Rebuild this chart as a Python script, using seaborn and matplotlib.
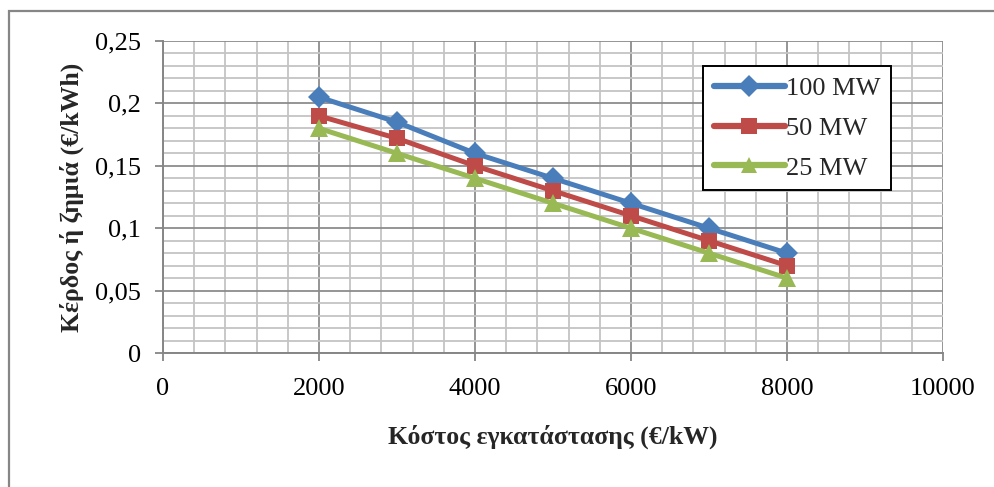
import matplotlib
matplotlib.use("Agg")
import matplotlib.pyplot as plt
from matplotlib.ticker import MultipleLocator, FuncFormatter
from matplotlib.patches import Rectangle
import seaborn as sns
import pandas as pd

# ---- data ----
cost = [2000, 3000, 4000, 5000, 6000, 7000, 8000]
series_names = ["100 MW", "50 MW", "25 MW"]
profit_100 = [0.205, 0.185, 0.16, 0.14, 0.12, 0.10, 0.08]
profit_50 = [0.19, 0.172, 0.15, 0.13, 0.11, 0.09, 0.07]
profit_25 = [0.18, 0.16, 0.14, 0.12, 0.10, 0.08, 0.06]
x_label = "Κόστος εγκατάστασης (€/kW)"
y_label = "Κέρδος ή ζημιά (€/kWh)"

df = pd.DataFrame({
    "cost": cost * 3,
    "profit": profit_100 + profit_50 + profit_25,
    "series": [series_names[0]] * len(cost) + [series_names[1]] * len(cost) + [series_names[2]] * len(cost),
})

sns.set_theme(style="white")
plt.rcParams["font.family"] = ["Liberation Serif", "DejaVu Serif"]

fig = plt.figure(figsize=(9.95, 4.87), dpi=100)
ax = fig.add_axes([163 / 995, 1 - 353 / 487, (943 - 163) / 995, (353 - 41) / 487])

palette = {"100 MW": "#4A7EBB", "50 MW": "#BE4B48", "25 MW": "#98B954"}
markers = {"100 MW": "D", "50 MW": "s", "25 MW": "^"}

sns.lineplot(data=df, x="cost", y="profit", hue="series", style="series",
             hue_order=series_names, style_order=series_names,
             palette=palette, markers=markers, dashes=False,
             linewidth=3.6, markersize=11, markeredgewidth=0, ax=ax, zorder=3)

for line, ms in zip(ax.get_lines()[:3], [11, 11.5, 13]):
    line.set_markersize(ms)

ax.set_xlim(0, 10000)
ax.set_ylim(0, 0.25)
ax.xaxis.set_major_locator(MultipleLocator(2000))
ax.xaxis.set_minor_locator(MultipleLocator(400))
ax.yaxis.set_major_locator(MultipleLocator(0.05))
ax.yaxis.set_minor_locator(MultipleLocator(0.01))

def yfmt(v, pos):
    s = ("%.2f" % v).rstrip("0").rstrip(".")
    return s.replace(".", ",")

ax.yaxis.set_major_formatter(FuncFormatter(yfmt))
ax.xaxis.set_major_formatter(FuncFormatter(lambda v, p: "%d" % v))

ax.grid(which="major", color="#8c8c8c", linewidth=1.3, zorder=0)
ax.grid(which="minor", color="#c4c4c4", linewidth=1.3, zorder=0)
ax.set_axisbelow(True)

for side in ["top", "right"]:
    ax.spines[side].set_visible(False)
for side in ["left", "bottom"]:
    ax.spines[side].set_color("#868686")
    ax.spines[side].set_linewidth(1.4)

ax.tick_params(axis="both", which="major", direction="out", length=6,
               width=1.3, color="#868686", labelsize=19, labelcolor="black")
ax.tick_params(axis="x", which="major", pad=12, bottom=True)
ax.tick_params(axis="y", which="major", pad=10, left=True)
ax.tick_params(which="minor", length=0)

ax.set_xlabel(x_label, fontsize=18.5, fontweight="bold", labelpad=18)
ax.set_ylabel(y_label, fontsize=18.5, fontweight="bold", labelpad=8)

leg = ax.legend(loc="upper left", bbox_to_anchor=(703 / 995, 1 - 66 / 487),
                bbox_transform=fig.transFigure, fontsize=19, frameon=True,
                fancybox=False, handlelength=2.7, handletextpad=0.05,
                borderpad=0.4, labelspacing=0.62, borderaxespad=0)
leg.get_frame().set_edgecolor("black")
leg.get_frame().set_linewidth(1.4)
leg.get_frame().set_facecolor("white")
leg.get_frame().set_alpha(1)
for h in leg.legend_handles:
    h.set_linewidth(4.5)

# outer chart border
fig.patches.append(Rectangle((9 / 995, -0.05), 1.0, 1 - 11 / 487 + 0.05,
                             transform=fig.transFigure, fill=False,
                             edgecolor="#868686", linewidth=1.6, zorder=0))

fig.savefig("out.png", dpi=100)
